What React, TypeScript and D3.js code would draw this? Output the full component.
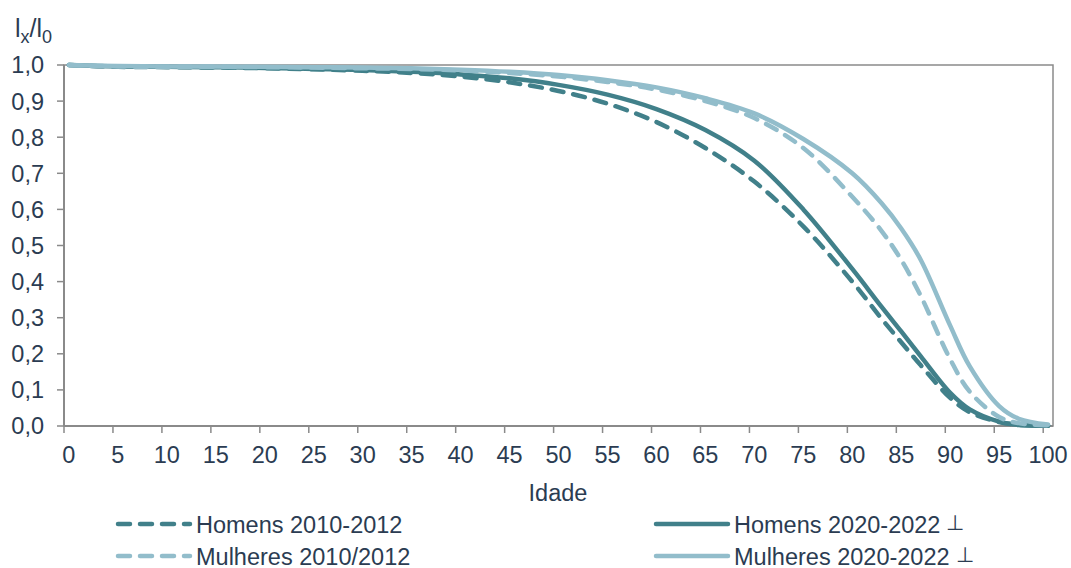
import React from "react";
import * as d3 from "d3";

const ages = [0, 5, 10, 15, 20, 25, 30, 35, 40, 45, 50, 55, 60, 65, 70, 75, 80, 83, 85, 87, 90, 92, 95, 97, 100];

const homens2010 = [1.0, 0.995, 0.994, 0.993, 0.991, 0.988, 0.984, 0.978, 0.968, 0.952, 0.928, 0.893, 0.842, 0.77, 0.677, 0.553, 0.4, 0.297, 0.232, 0.168, 0.078, 0.038, 0.011, 0.003, 0.001];
const homens2020 = [1.0, 0.996, 0.995, 0.994, 0.992, 0.989, 0.986, 0.981, 0.974, 0.963, 0.945, 0.918, 0.878, 0.82, 0.735, 0.6, 0.435, 0.33, 0.262, 0.193, 0.092, 0.046, 0.012, 0.003, 0.001];
const mulheres2010 = [1.0, 0.996, 0.995, 0.995, 0.994, 0.993, 0.991, 0.989, 0.985, 0.978, 0.968, 0.953, 0.932, 0.9, 0.853, 0.77, 0.635, 0.54, 0.46, 0.36, 0.185, 0.095, 0.025, 0.008, 0.002];
const mulheres2020 = [1.0, 0.997, 0.996, 0.996, 0.995, 0.994, 0.993, 0.991, 0.987, 0.981, 0.972, 0.958, 0.938, 0.908, 0.866, 0.795, 0.7, 0.617, 0.547, 0.46, 0.278, 0.165, 0.055, 0.02, 0.004];

const yTicks = [0, 0.1, 0.2, 0.3, 0.4, 0.5, 0.6, 0.7, 0.8, 0.9, 1.0];
const xTickAges = [0, 5, 10, 15, 20, 25, 30, 35, 40, 45, 50, 55, 60, 65, 70, 75, 80, 85, 90, 95, 100];

const DARK = "#41808a";
const LIGHT = "#92bdcb";
const TEXT = "#2b3c52";
const AXIS = "#8a8a8a";
const FONT = "'Liberation Sans', Arial, sans-serif";
const FS = 23.5;

const series = [
  { name: "Homens 2010-2012", values: homens2010, color: DARK, dashed: true, mark: false },
  { name: "Homens 2020-2022", values: homens2020, color: DARK, dashed: false, mark: true },
  { name: "Mulheres 2010/2012", values: mulheres2010, color: LIGHT, dashed: true, mark: false },
  { name: "Mulheres 2020-2022", values: mulheres2020, color: LIGHT, dashed: false, mark: true },
];

const L = 64, R = 1053, T = 65, B = 426;

export default function App() {
  const x = d3.scaleLinear().domain([-0.5, 100.5]).range([L, R]);
  const y = d3.scaleLinear().domain([0, 1]).range([B, T]);
  const line = d3
    .line<number>()
    .x((_, i) => x(ages[i]))
    .y((d) => y(Math.max(0, d)))
    .curve(d3.curveCatmullRom.alpha(0.5));
  const fmt = (v: number) => v.toFixed(1).replace(".", ",");
  const drawOrder = [0, 1, 2, 3];
  const legendPos = [
    { lx: 118, ly: 524 },
    { lx: 656, ly: 524 },
    { lx: 118, ly: 556 },
    { lx: 656, ly: 556 },
  ];
  return (
    <svg width={1071} height={568} style={{ position: "absolute", left: 0, top: 0 }} fontFamily={FONT}>
      <rect x={0} y={0} width={1071} height={568} fill="#fff" />
      <rect x={L} y={T} width={R - L} height={B - T} fill="none" stroke={AXIS} strokeWidth={1.5} />
      {yTicks.map((t) => (
        <g key={"y" + t}>
          <line x1={L - 7} x2={L} y1={y(t)} y2={y(t)} stroke={AXIS} strokeWidth={1.5} />
          <text x={44} y={y(t)} dy="0.36em" textAnchor="end" fontSize={FS} fill={TEXT}>
            {fmt(t)}
          </text>
        </g>
      ))}
      {xTickAges.map((a) => (
        <g key={"x" + a}>
          <line x1={x(a - 0.5)} x2={x(a - 0.5)} y1={B} y2={B + 7} stroke={AXIS} strokeWidth={1.5} />
          <text x={x(a)} y={463} textAnchor="middle" fontSize={FS} fill={TEXT}>
            {a}
          </text>
        </g>
      ))}
      <line x1={L} x2={L} y1={T} y2={B} stroke={AXIS} strokeWidth={2} />
      <line x1={L} x2={R} y1={B} y2={B} stroke={AXIS} strokeWidth={2} />
      <text x={558} y={501} textAnchor="middle" fontSize={FS} fill={TEXT}>
        Idade
      </text>
      <text x={15} y={37} fontSize={25} fill={TEXT}>
        l<tspan fontSize={18} dy={6}>x</tspan>
        <tspan dy={-6}>/l</tspan>
        <tspan fontSize={18} dy={6}>0</tspan>
      </text>
      {drawOrder.map((i) => {
        const s = series[i];
        return (
          <path
            key={s.name}
            d={line(s.values) || ""}
            fill="none"
            stroke={s.color}
            strokeWidth={4.5}
            strokeLinecap="round"
            strokeDasharray={s.dashed ? "12 10" : undefined}
          />
        );
      })}
      {series.map((s, i) => {
        const p = legendPos[i];
        return (
          <g key={"lg" + s.name}>
            <line
              x1={p.lx}
              x2={p.lx + 72}
              y1={p.ly}
              y2={p.ly}
              stroke={s.color}
              strokeWidth={4.5}
              strokeLinecap="round"
              strokeDasharray={s.dashed ? "12 10" : undefined}
            />
            <text x={p.lx + 78} y={p.ly + 8.5} fontSize={FS} fill={TEXT}>
              {s.name}
              {s.mark ? (
                <tspan fontSize={21} dx={6} dy={-3}>
                  ⊥
                </tspan>
              ) : null}
            </text>
          </g>
        );
      })}
    </svg>
  );
}
